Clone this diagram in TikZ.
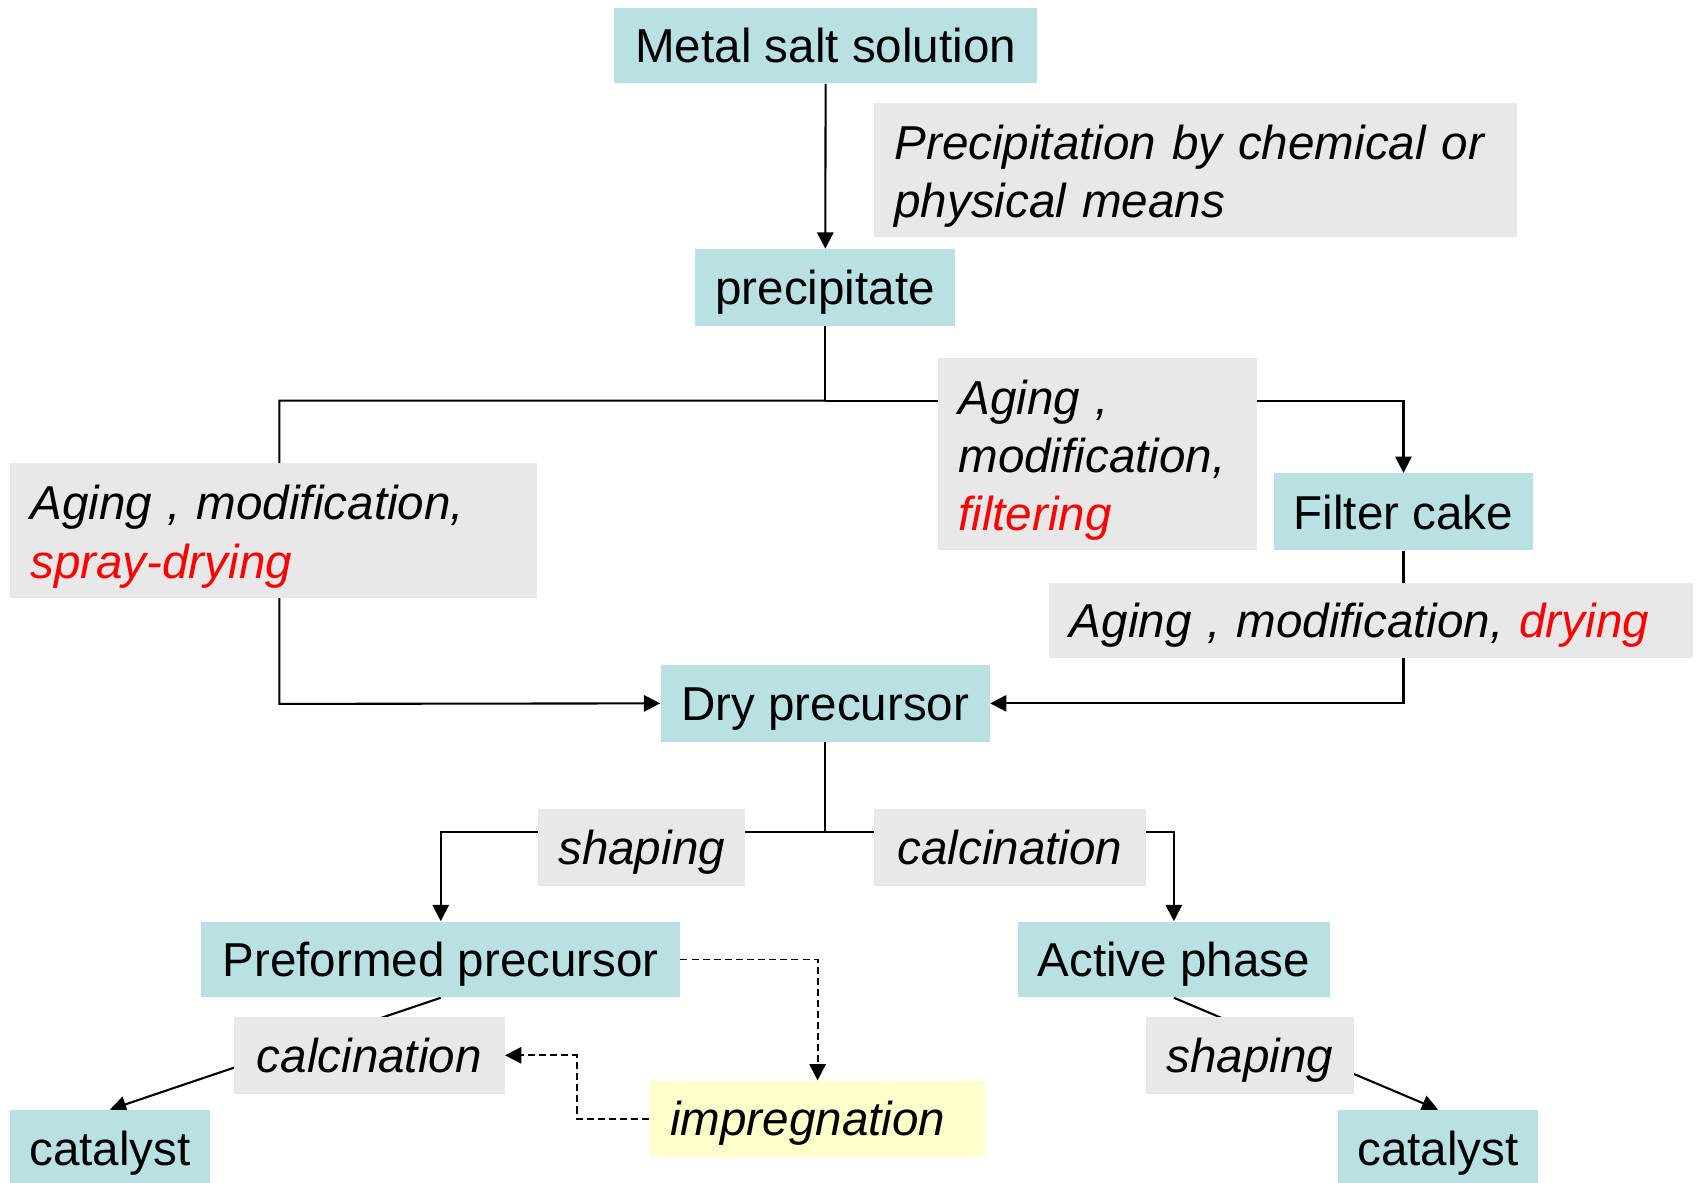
\documentclass[tikz,border=0pt]{standalone}
\usepackage{fontspec}
\setmainfont{Liberation Sans}
\usetikzlibrary{positioning, arrows.meta, backgrounds}

\definecolor{stagefill}{RGB}{185,224,226}
\definecolor{procfill}{RGB}{232,232,232}
\definecolor{impregfill}{RGB}{255,255,204}

% strut that lowers the first line of a multi-line box
\newcommand{\firstline}{\rule{0pt}{8.6mm}}

\begin{document}
\begin{tikzpicture}[
    x=0.2mm, y=-0.2mm,
    every node/.style={font=\fontsize{25}{30.5}\selectfont},
    oneline/.style={text height=6.4mm, text depth=0pt},
    stage/.style={rectangle, fill=stagefill, inner sep=0pt, minimum height=14.2mm, oneline},
    procbox/.style={rectangle, fill=procfill, inner sep=0pt, minimum height=14.2mm, oneline, font=\fontsize{25}{30.5}\selectfont\itshape},
    proctext/.style={rectangle, fill=procfill, inner xsep=3.8mm, inner ysep=0pt, align=left, font=\fontsize{25}{30.5}\selectfont\itshape},
    impregbox/.style={rectangle, fill=impregfill, inner xsep=3.8mm, inner ysep=0pt, minimum height=14mm, align=left, oneline, font=\fontsize{25}{30.5}\selectfont\itshape},
    arrow/.style={-{Triangle[length=3mm, width=3mm]}, line width=1.1pt},
    plainline/.style={line width=1.1pt},
    dasharrow/.style={arrow, line width=1pt, dash pattern=on 1.3mm off 0.75mm},
]
\useasboundingbox (0,0) rectangle (1568,1092);

% Upper stages
\node[stage, minimum width=78.2mm, minimum height=14mm] (metal) at (762.5,42) {Metal salt solution};
\node[proctext, text width=111.2mm, minimum height=24.8mm] (precipitation) at (1104,157) {\firstline Precipitation by chemical or\\physical means};
\node[stage, minimum width=48mm] (precip) at (762,265.5) {precipitate};

% Two routes to the dry precursor
\node[proctext, text width=89.8mm, minimum height=24.8mm] (agingL) at (252.5,490) {\firstline Aging , modification,\\\textcolor{red}{spray-drying}};
\node[proctext, text width=51.4mm, minimum height=35.4mm] (agingM) at (1013.5,419.5) {\firstline Aging ,\\modification,\\\textcolor{red}{filtering}};
\node[stage, minimum width=48mm] (filter) at (1296,472.5) {Filter cake};
\node[proctext, oneline, text width=111.2mm, minimum height=14mm] (agingR) at (1266,573) {Aging , modification, \textcolor{red}{drying}};
\node[stage, minimum width=60.8mm] (dry) at (762,649.5) {Dry precursor};

% Shaping / calcination
\node[procbox, minimum width=38.2mm] (shapeA) at (592.5,782.5) {shaping};
\node[procbox, minimum width=50.2mm] (calcA) at (932.5,782.5) {calcination};
\node[stage, minimum width=88.4mm, minimum height=14mm] (preformed) at (407,886) {Preformed precursor};
\node[stage, minimum width=57.6mm, minimum height=14mm] (active) at (1084,886) {Active phase};

% Final steps
\node[procbox, minimum width=50mm] (calcB) at (341,974.5) {calcination};
\node[procbox, minimum width=38.4mm] (shapeB) at (1154,974.5) {shaping};
\node[impregbox, text width=54.4mm] (impreg) at (755,1033) {impregnation};
\node[stage, minimum width=37mm] (catL) at (101.5,1060.5) {catalyst};
\node[stage, minimum width=36.8mm] (catR) at (1328,1060.5) {catalyst};

\coordinate (split1) at (762,370);
\coordinate (leftdown) at (258,650);
\coordinate (split2) at (762,768);

% Connectors behind the boxes
\begin{scope}[on background layer]
    \draw[arrow] (metal) -- (precip);
    \draw[plainline] (precip.south) -- (split1);
    \draw[arrow] (split1) -| (leftdown) -- (dry.west);
    \draw[arrow] (split1) -| (filter.north);
    \draw[arrow] (filter.south) |- (dry.east);
    \draw[plainline] (dry.south) -- (split2);
    \draw[arrow] (split2) -| (preformed.north);
    \draw[arrow] (split2) -| (active.north);
    \draw[arrow] (preformed.south) -- (catL.north);
    \draw[arrow] (active.south) -- (catR.north);
    \draw[dasharrow] (preformed.east) -| (impreg.north);
    \draw[dasharrow] (impreg.west) -- +(-67,0) |- (calcB.east);
\end{scope}

\end{tikzpicture}
\end{document}
